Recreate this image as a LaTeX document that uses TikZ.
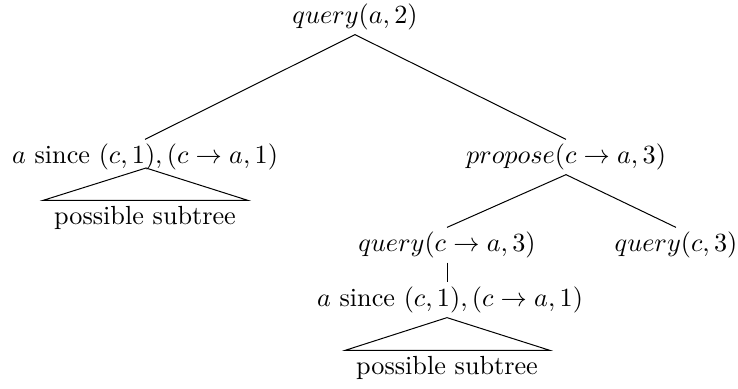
\documentclass[tikz,border=0pt]{standalone}
\usepackage{amsmath,amssymb}
\usetikzlibrary{positioning, calc}

\begin{document}
\begin{tikzpicture}[x=0.01408cm, y=-0.01408cm,
    tnode/.style={inner sep=2pt, text height=1.6ex, text depth=.5ex, scale=1.05},
    edge/.style={thin},
    subtri/.style={thin}]

    \useasboundingbox (0,0) rectangle (738,388);

    % Tree nodes
    \node[tnode] (root) at (355,17) {$query(a,2)$};
    \node[tnode] (lsince) at (145,157) {$a$ since $(c,1),(c\rightarrow a,1)$};
    \node[tnode] (prop) at (566,157) {$propose(c\rightarrow a,3)$};
    \node[tnode] (qca) at (447,245) {$query(c\rightarrow a,3)$};
    \node[tnode] (qc) at (676,245) {$query(c,3)$};
    \node[tnode] (rsince) at (450,300) {$a$ since $(c,1),(c\rightarrow a,1)$};

    % Subtree labels
    \node[tnode] (lsub) at (145,218) {possible subtree};
    \node[tnode] (rsub) at (447,368) {possible subtree};

    % Edges
    \draw[edge] (root.south) -- (lsince.north);
    \draw[edge] (root.south) -- (prop.north);
    \draw[edge] (prop.south) -- (qca.north);
    \draw[edge] (prop.south) -- (qc.north);
    \draw[edge] (qca.south) -- (rsince.north -| qca.south);

    % Triangles
    \draw[subtri] (146,168) -- (lsub.north -| 43,0) -- (lsub.north -| 248,0) -- cycle;
    \draw[subtri] (rsince.south -| 447,0) -- (rsub.north -| 345,0) -- (rsub.north -| 550,0) -- cycle;

\end{tikzpicture}
\end{document}
